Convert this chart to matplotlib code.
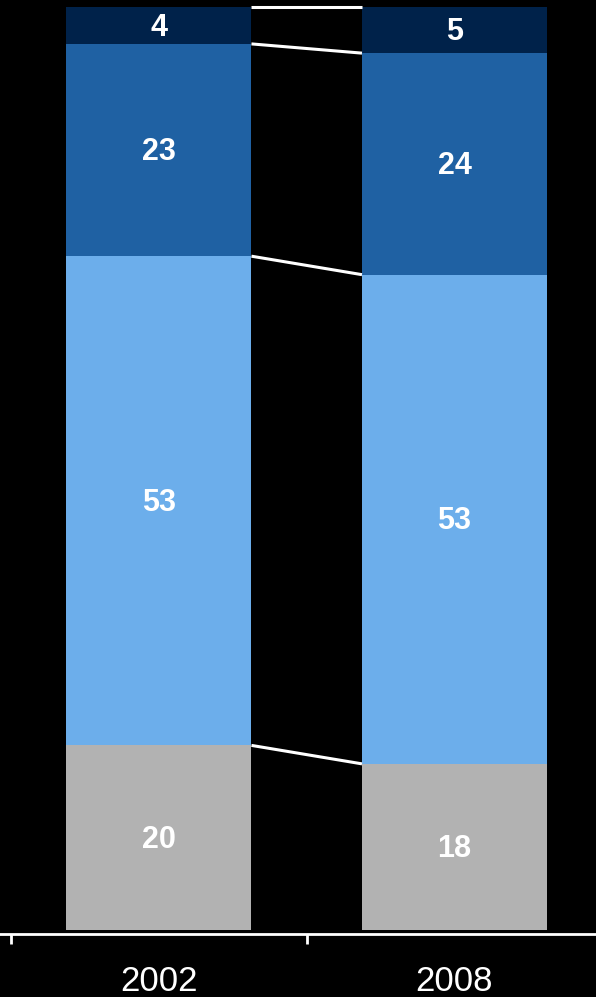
import numpy as np
import matplotlib.pyplot as plt

years = ["2002", "2008"]
# segments from bottom to top
gray_vals = [20, 18]
light_vals = [53, 53]
mid_vals = [23, 24]
dark_vals = [4, 5]

series = [gray_vals, light_vals, mid_vals, dark_vals]
colors = ["#b2b2b2", "#6caeeb", "#1f61a3", "#00224a"]

plt.rcParams['font.family'] = ['Liberation Sans', 'DejaVu Sans']

fig = plt.figure(figsize=(5.96, 9.97), dpi=100, facecolor="black")
ax = fig.add_axes([0, 0.0672, 1, 0.9258])
ax.set_facecolor("black")

x = np.arange(len(years))
w = 0.626
bottom = np.zeros(len(years))
tops = [bottom.copy()]
for vals, c in zip(series, colors):
    vals = np.array(vals, dtype=float)
    ax.bar(x, vals, w, bottom=bottom, color=c, zorder=2)
    for xi, b, v in zip(x, bottom, vals):
        ax.annotate(str(int(v)), (xi, b + v / 2), xytext=(0, -1.5),
                    textcoords="offset points", ha="center", va="center",
                    color="white", fontsize=22, fontweight="bold", zorder=3)
    bottom = bottom + vals
    tops.append(bottom.copy())

# connector lines between the bars at each boundary
for t in tops[1:]:
    ax.plot([x[0] + w / 2, x[1] - w / 2], [t[0], t[1]], color="white",
            lw=2.2, solid_capstyle="butt", zorder=4, clip_on=False)

for s in ["top", "right", "left"]:
    ax.spines[s].set_visible(False)
ax.spines["bottom"].set_position(("outward", 3))
ax.spines["bottom"].set_color("white")
ax.spines["bottom"].set_linewidth(2)

ax.set_yticks([])
ax.set_xticks([-0.5, 0.5, 1.5])
ax.set_xticklabels([])
ax.tick_params(axis="x", which="major", direction="out", length=7,
               width=2, color="white")
ax.set_xticks(x, minor=True)
ax.set_xticklabels(years, minor=True)
ax.tick_params(axis="x", which="minor", length=0, pad=22,
               labelsize=25, labelcolor="white")

# limits last so the tick setters don't widen the view
ax.set_xlim(-0.538, 1.479)
ax.set_ylim(0, 100)

fig.savefig("out.png", dpi=100, facecolor="black")
